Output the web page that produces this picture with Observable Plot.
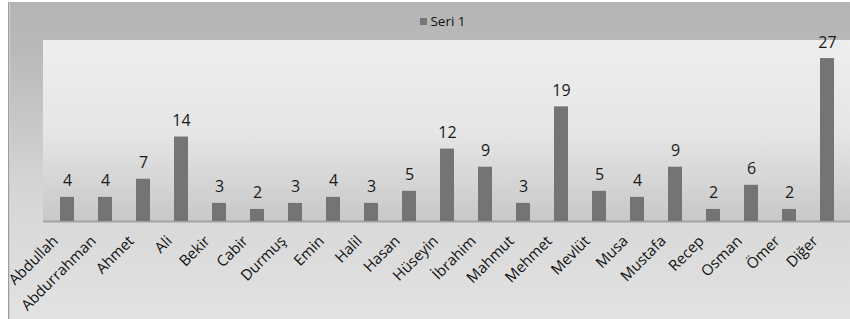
<!DOCTYPE html>
<html>
<head>
<meta charset="utf-8">
<script src="https://cdn.jsdelivr.net/npm/d3@7"></script>
<script src="https://cdn.jsdelivr.net/npm/@observablehq/plot@0.6"></script>
<style>
  html, body { margin: 0; padding: 0; background: #fff; }
  #wrap { position: relative; width: 850px; height: 319px; overflow: hidden; font-family: "Open Sans", sans-serif; }
  #outer { position: absolute; left: 8px; top: 2px; right: 0; bottom: 0;
           background: linear-gradient(to bottom, #b5b5b5 0%, #b9b9b9 15%, #d6d6d6 60%, #e2e2e2 100%);
           border-left: 1px solid #9c9c9c; box-shadow: inset 1px 0 0 #d0d0d0; }
  #wall { position: absolute; left: 43px; top: 40px; width: 807px; height: 181px;
          background: linear-gradient(to bottom, #eeeeee 0%, #e6e6e6 50%, #c8c8c8 100%); }
  #legend { position: absolute; top: 12px; left: 18px; width: 850px; text-align: center; font-size: 13.5px; color: #111; }
  #legend .sw { display: inline-block; width: 7px; height: 7px; background: #777; margin-right: 3px; vertical-align: 1px; }
  #chart { position: absolute; left: 0; top: 0; }
</style>
</head>
<body>
<div id="wrap">
  <div id="outer"></div>
  <div id="wall"></div>
  <div id="legend"><span class="sw"></span>Seri 1</div>
  <div id="chart"></div>
</div>
<script>
const names = ["Abdullah","Abdurrahman","Ahmet","Ali","Bekir","Cabir","Durmuş","Emin","Halil","Hasan","Hüseyin","İbrahim","Mahmut","Mehmet","Mevlüt","Musa","Mustafa","Recep","Osman","Ömer","Diğer"];
const values = [4,4,7,14,3,2,3,4,3,5,12,9,3,19,5,4,9,2,6,2,27];
const seriesName = "Seri 1";

const data = names.map((n, i) => ({name: n, value: values[i]}));

const chart = Plot.plot({
  width: 850,
  height: 319,
  marginTop: 40,
  marginBottom: 98,
  marginLeft: 43,
  marginRight: 0,
  style: {background: "transparent", fontFamily: "Open Sans, sans-serif", overflow: "visible"},
  x: {domain: names, range: [43, 852], paddingInner: 0.62, paddingOuter: 0.31, label: null},
  y: {domain: [0, 30], axis: null},
  marks: [
    Plot.ruleY([0], {stroke: "#a4a4a4", strokeWidth: 2}),
    Plot.barY(data, {x: "name", y: "value", fill: "#747474"}),
    Plot.text(data, {x: "name", y: "value", text: d => String(d.value), lineAnchor: "bottom", dy: -11, fontSize: 16, fill: "#1a1a1a"}),
    Plot.axisX({tickRotate: -45, tickSize: 0, tickPadding: 17, dx: -12, fontSize: 15, fill: "#111", label: null})
  ]
});
document.getElementById("chart").appendChild(chart);
</script>
</body>
</html>
